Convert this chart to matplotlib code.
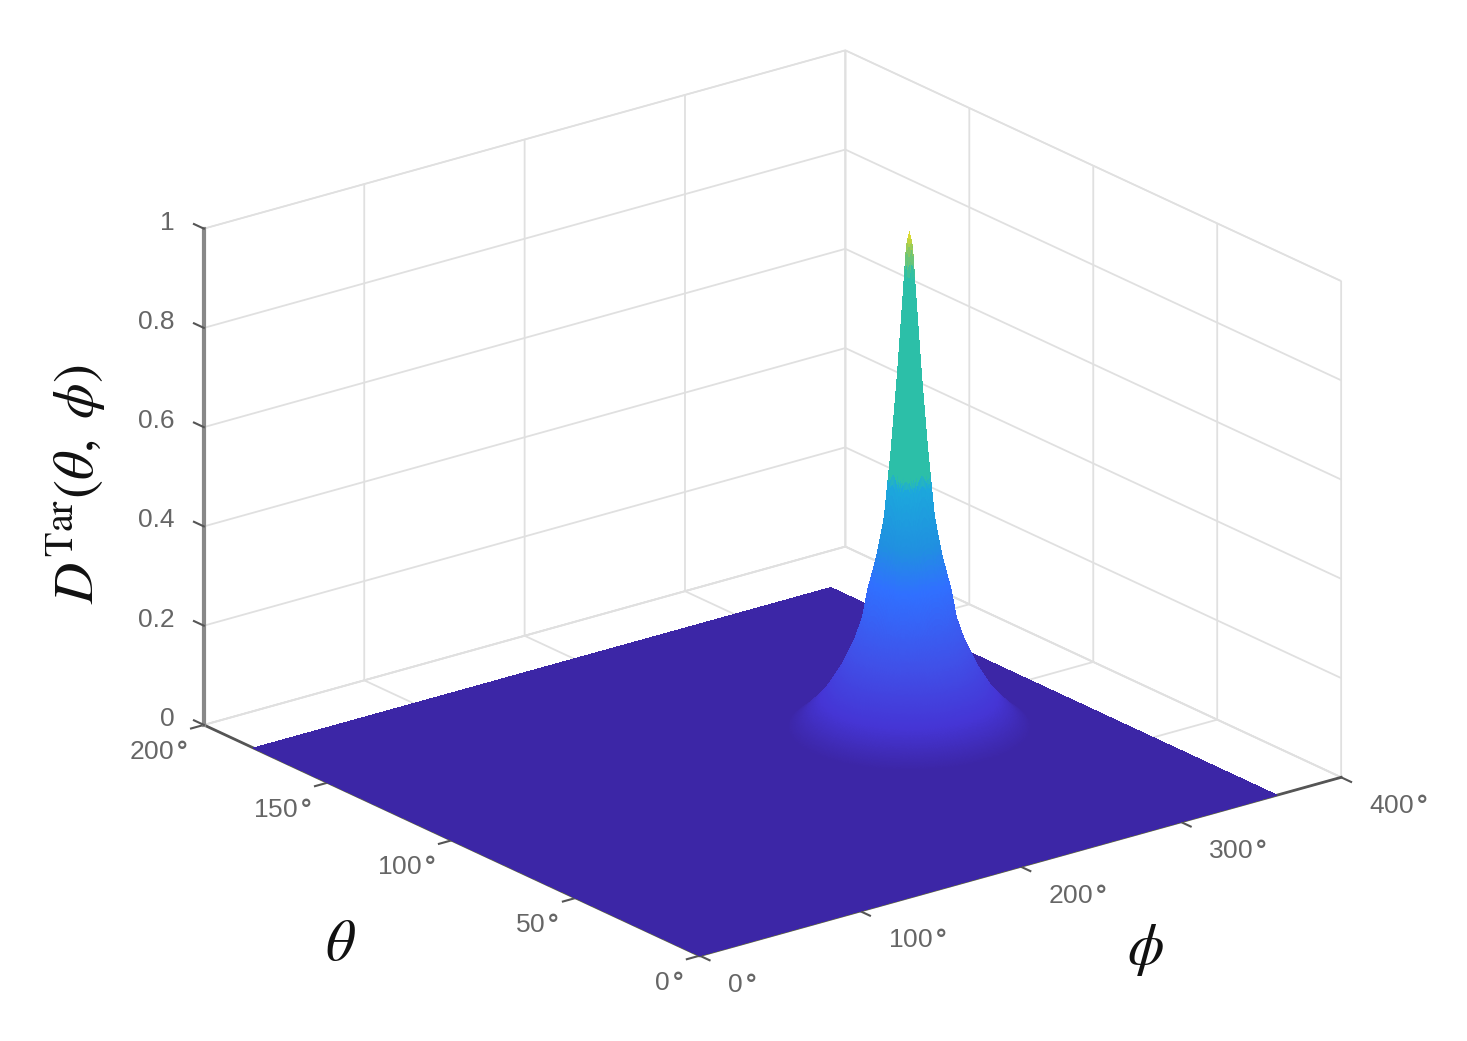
import numpy as np
import matplotlib
matplotlib.use("Agg")
import matplotlib.pyplot as plt
from matplotlib.colors import LinearSegmentedColormap
from matplotlib.transforms import ScaledTranslation

# Values
phi_ticks = [0, 100, 200, 300, 400]
theta_ticks = [0, 50, 100, 150, 200]
z_ticks = [0, 0.2, 0.4, 0.6, 0.8, 1]
phi_tick_values = ["0", "100", "200", "300", "400"]
theta_tick_values = ["0", "50", "100", "150", "200"]
z_tick_labels = ["0", "0.2", "0.4", "0.6", "0.8", "1"]
phi_extent = 360
theta_extent = 180
peak_phi = 273
peak_theta = 92
# Radial profile of the peak (distance in phi degrees; theta distance counts double)
profile_radius = [0, 1.5, 3.2, 5.9, 8.9, 12.4, 16.3, 20.7, 23.2, 27.2, 33.6, 41, 47, 54, 60]
profile_height = [1.0, 0.97, 0.868, 0.713, 0.565, 0.423, 0.342, 0.275, 0.22, 0.174, 0.12, 0.073, 0.045, 0.018, 0.0]
# Surface colours
colour_stops = [(0, "#3C26A6"), (0.06, "#4535D5"), (0.16, "#4050E8"), (0.30, "#3070FF"),
                (0.38, "#2090E0"), (0.50, "#1CA8DC"), (0.52, "#2CBFA8"),
                (0.92, "#2CBFA8"), (0.97, "#8CC860"), (1, "#F5E020")]

plt.rcParams["mathtext.fontset"] = "stix"
plt.rcParams["font.family"] = ["Liberation Sans", "DejaVu Sans"]
plt.rcParams["mathtext.rm"] = "Liberation Sans"
plt.rcParams["mathtext.bf"] = "Liberation Sans:bold"
plt.rcParams["mathtext.it"] = "Liberation Sans:italic"
cmap = LinearSegmentedColormap.from_list("surface", colour_stops, N=512)

fig = plt.figure(figsize=(14.67, 10.41), dpi=100, facecolor="white")
ax = fig.add_axes([259 / 1467, 24.5 / 1041, 1000 / 1467, 1000 / 1041], projection="3d",
                  proj_type="ortho", facecolor="none")
ax.view_init(elev=21.08, azim=-127.7)
ax.set_box_aspect((1, 1, 0.656), zoom=1.227)

phi = np.unique(np.r_[np.linspace(0, phi_extent, 37), np.arange(peak_phi - 62, peak_phi + 62.01, 0.5)])
theta = np.unique(np.r_[np.linspace(0, theta_extent, 37), np.arange(peak_theta - 31, peak_theta + 31.01, 0.25)])
P, T = np.meshgrid(phi, theta)
R = np.hypot(P - peak_phi, 2 * (T - peak_theta))
Z = np.interp(R, profile_radius, profile_height)
colours = cmap(0.25 * (Z[:-1, :-1] + Z[1:, :-1] + Z[:-1, 1:] + Z[1:, 1:]))
surf = ax.plot_surface(P, T, Z, facecolors=colours, rstride=1, cstride=1, shade=False,
                       linewidth=0, antialiased=False)
surf.set_clip_on(False)

ax.set_xlim(0, 400, view_margin=0)
ax.set_ylim(0, 200, view_margin=0)
ax.set_zlim(0, 1, view_margin=0)


def degree_label(value):
    return r"$\mathrm{%s}\,\mathbf{°}$" % value


ax.set_xticks(phi_ticks, [degree_label(v) for v in phi_tick_values])
ax.set_yticks(theta_ticks, [degree_label(v) for v in theta_tick_values])
ax.set_zticks(z_ticks, z_tick_labels)

for axis in (ax.xaxis, ax.yaxis, ax.zaxis):
    axis.set_pane_color((1, 1, 1, 1))
    axis.pane.set_edgecolor("#e0e0e0")
    axis.line.set_color("#555555")
    axis.line.set_linewidth(2)
    axis._axinfo["grid"].update(color="#e0e0e0", linewidth=1.3)
    axis._axinfo["tick"].update(inward_factor=0.25, outward_factor=0,
                                linewidth={True: 1.5, False: 1}, color="#555555")
ax.zaxis.line.set_color("#888888")
ax.zaxis.line.set_linewidth(3)
ax.zaxis._get_tickdir = lambda position: 1
ax.zaxis._axinfo["tick"].update(inward_factor=0, outward_factor=0.25)
ax.tick_params(axis="both", labelsize=19, labelcolor="#666666", color="#555555", pad=6)
ax.tick_params(axis="z", labelsize=19, labelcolor="#666666", color="#555555", pad=6)


def place_labels(axis, ha, dx, dy):
    # Axis3D resets the tick transforms whenever the ticks are fetched, so wrap the getter
    offset = ax.transData + ScaledTranslation(dx / 100, dy / 100, fig.dpi_scale_trans)
    original = axis.get_major_ticks

    def get_major_ticks(numticks=None):
        ticks = original(numticks)
        for tick in ticks:
            tick.label1.set_ha(ha)
            tick.label1.set_math_fontfamily("custom")
            tick.label1.set_transform(offset)
        return ticks

    axis.get_major_ticks = get_major_ticks


place_labels(ax.xaxis, "left", 9, 10)
place_labels(ax.yaxis, "right", 8, 10)
place_labels(ax.zaxis, "right", 13, 16)


def px(x, y):
    return x / 1467, 1 - y / 1041


fig.text(*px(340, 945), r"$\theta$", fontsize=42, ha="center", va="center", color="#111111")
fig.text(*px(1145, 950), r"$\phi$", fontsize=42, ha="center", va="center", color="#111111")
fig.text(*px(76, 484), r"$D^{\mathrm{Tar}}(\theta,\;\phi)$", fontsize=41, rotation=90,
         ha="center", va="center", color="#111111", math_fontfamily="stix")

fig.savefig("out.png", dpi=100)
